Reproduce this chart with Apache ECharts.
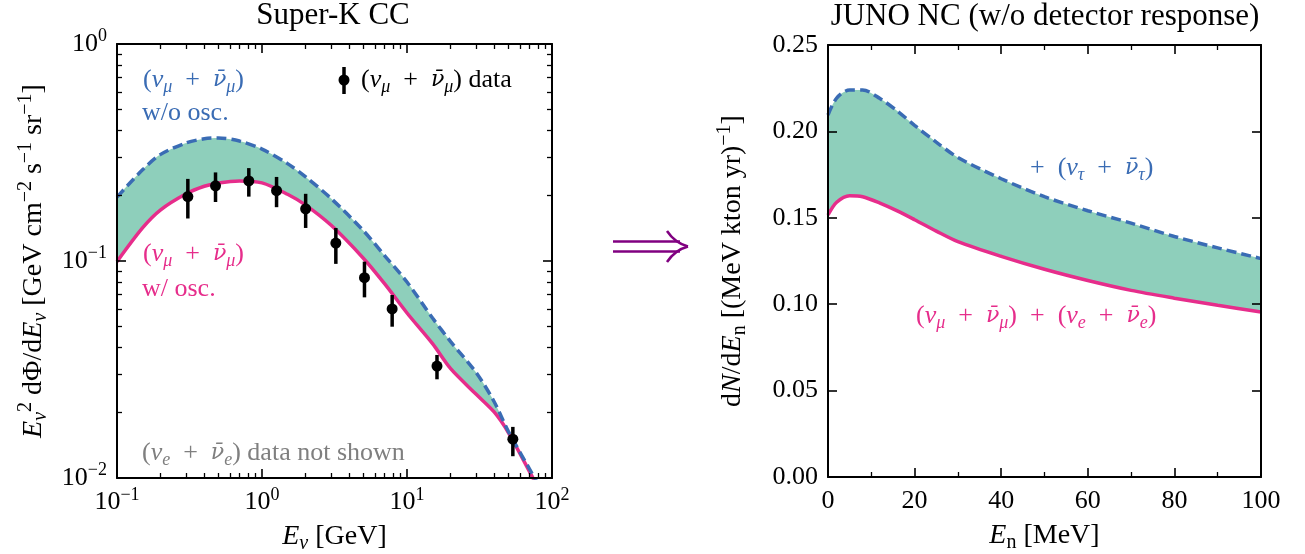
<!DOCTYPE html>
<html>
<head>
<meta charset="utf-8">
<title>Super-K CC / JUNO NC</title>
<script src="https://cdn.jsdelivr.net/npm/echarts@6/dist/echarts.min.js"></script>
<style>
  html, body { margin: 0; padding: 0; background: #fff; }
  #main { width: 1305px; height: 554px; }
</style>
</head>
<body>
<div id="main"></div>
<script>
// ---- Super-K CC (left panel) ----
var skEnergy = [0.1, 0.15, 0.2, 0.3, 0.4, 0.5, 0.7, 1, 1.5, 2, 3, 5, 7, 10, 15, 20, 30, 40, 50, 70, 80];
var skNoOsc = [0.197, 0.263, 0.310, 0.350, 0.366, 0.369, 0.357, 0.328, 0.281, 0.244, 0.194, 0.138, 0.106, 0.080, 0.0546, 0.0425, 0.0306, 0.0224, 0.0164, 0.0110, 0.0094];
var skOsc = [0.0993, 0.142, 0.172, 0.204, 0.221, 0.229, 0.234, 0.229, 0.203, 0.181, 0.146, 0.103, 0.0786, 0.0576, 0.0416, 0.0319, 0.0243, 0.0201, 0.0162, 0.0107, 0.0090];
var dataE = [0.308, 0.478, 0.811, 1.26, 2.0, 3.23, 5.09, 7.9, 16.1, 53.7];
var dataFlux = [0.198, 0.222, 0.234, 0.211, 0.174, 0.121, 0.0838, 0.0601, 0.0328, 0.0151];
var dataLo = [0.157, 0.187, 0.198, 0.177, 0.142, 0.097, 0.068, 0.0498, 0.0285, 0.0126];
var dataHi = [0.239, 0.256, 0.268, 0.244, 0.204, 0.142, 0.0993, 0.0697, 0.0369, 0.0172];

// ---- JUNO NC (right panel) ----
var junoE = [0, 2, 5, 8, 12, 16, 20, 25, 30, 40, 50, 60, 70, 80, 90, 100];
var junoWithTau = [0.2095, 0.2193, 0.2240, 0.2240, 0.2190, 0.2118, 0.2035, 0.1938, 0.1849, 0.1726, 0.1622, 0.1541, 0.1469, 0.1392, 0.1326, 0.1264];
var junoMuE = [0.1516, 0.1590, 0.1628, 0.1622, 0.1585, 0.1540, 0.1489, 0.1423, 0.1362, 0.1277, 0.1202, 0.1137, 0.1080, 0.1035, 0.0994, 0.0955];

// ---- ticks ----
var logMinorX = [0.2, 0.3, 0.4, 0.5, 0.6, 0.7, 0.8, 0.9, 2, 3, 4, 5, 6, 7, 8, 9, 20, 30, 40, 50, 60, 70, 80, 90];
var logMinorY = [0.02, 0.03, 0.04, 0.05, 0.06, 0.07, 0.08, 0.09, 0.2, 0.3, 0.4, 0.5, 0.6, 0.7, 0.8, 0.9];
var junoMinorX = [10, 30, 50, 70, 90];

var SERIF = '"Liberation Serif", "DejaVu Serif", serif';
var BLUE = '#3a6cb4';
var PINK = '#e62d8b';
var GREEN = '#8ecfbb';
var GRAY = '#7f7f7f';
var PURPLE = '#800080';

// rich styles: r roman, i italic, b italic nu-bar, s italic subscript, rs roman subscript, u superscript
function mathRich(color, fs) {
  var small = Math.round(fs * 0.7);
  var lh = Math.round(fs * 1.25);
  return {
    r: { fontFamily: SERIF, fontSize: fs, lineHeight: lh, color: color },
    i: { fontFamily: SERIF, fontSize: fs, fontStyle: 'italic', lineHeight: lh, color: color },
    b: { fontFamily: '"DejaVu Serif"', fontSize: Math.round(fs * 0.85), fontStyle: 'italic', lineHeight: lh, color: color },
    s: { fontFamily: SERIF, fontSize: small, fontStyle: 'italic', lineHeight: small, verticalAlign: 'bottom', color: color },
    rs: { fontFamily: SERIF, fontSize: small, lineHeight: small, verticalAlign: 'bottom', color: color },
    u: { fontFamily: SERIF, fontSize: small, lineHeight: small, verticalAlign: 'top', color: color }
  };
}

var NUBAR = 'ν\u0304';
var SP = '\u2002';
function pair(flav) {
  return '{r|(}{i|ν}{s|' + flav + '}{r|' + SP + '+' + SP + '}{b|' + NUBAR + '}{s|' + flav + '}{r|)}';
}

function zip(xs, ys) {
  return xs.map(function (x, i) { return [x, ys[i]]; });
}

function powLabel(v) {
  var e = Math.round(Math.log(v) / Math.LN10);
  return '{r|10}{u|' + (e < 0 ? '−' + (-e) : e) + '}';
}

// one frame axis: major (with/without labels) or minor ticks only
function frameAxis(o) {
  var ax = {
    type: o.type,
    gridIndex: o.grid,
    position: o.position,
    min: o.min,
    max: o.max,
    z: 10,
    axisLine: { show: !o.minor, onZero: false, lineStyle: { color: '#000', width: 2 } },
    axisTick: { show: true, inside: true, length: o.minor ? 5 : 9, lineStyle: { color: '#000', width: o.minor ? 1.3 : 1.6 } },
    minorTick: { show: false },
    splitLine: { show: false },
    minorSplitLine: { show: false },
    axisLabel: { show: false },
    silent: true
  };
  if (o.type === 'log') ax.logBase = 10;
  if (o.interval) ax.interval = o.interval;
  if (o.minor) ax.axisTick.customValues = o.minor;
  if (o.labels) {
    ax.axisLabel = {
      show: true, margin: o.margin || 8, color: '#000', fontFamily: SERIF, fontSize: 26,
      showMinLabel: true, showMaxLabel: true,
      formatter: o.labels, rich: mathRich('#000', 26)
    };
  }
  if (o.name) {
    ax.name = o.name;
    ax.nameLocation = 'middle';
    ax.nameGap = o.nameGap;
    ax.nameRotate = o.nameRotate;
    ax.nameTextStyle = { fontFamily: SERIF, fontSize: 28, color: '#000', rich: mathRich('#000', 28) };
  }
  return ax;
}

var xAxes = [
  frameAxis({ type: 'log', grid: 0, position: 'bottom', min: 0.1, max: 100, labels: powLabel, margin: 8,
    name: '{i|E}{s|ν}{r| [GeV]}', nameGap: 41 }),
  frameAxis({ type: 'log', grid: 0, position: 'bottom', min: 0.1, max: 100, minor: logMinorX }),
  frameAxis({ type: 'log', grid: 0, position: 'top', min: 0.1, max: 100 }),
  frameAxis({ type: 'log', grid: 0, position: 'top', min: 0.1, max: 100, minor: logMinorX }),
  frameAxis({ type: 'value', grid: 1, position: 'bottom', min: 0, max: 100, interval: 20,
    labels: function (v) { return '{r|' + v + '}'; }, margin: 8,
    name: '{i|E}{rs|n}{r| [MeV]}', nameGap: 41 }),
  frameAxis({ type: 'value', grid: 1, position: 'bottom', min: 0, max: 100, minor: junoMinorX }),
  frameAxis({ type: 'value', grid: 1, position: 'top', min: 0, max: 100, interval: 20 }),
  frameAxis({ type: 'value', grid: 1, position: 'top', min: 0, max: 100, minor: junoMinorX })
];

var yAxes = [
  frameAxis({ type: 'log', grid: 0, position: 'left', min: 0.01, max: 1, labels: powLabel, margin: 10,
    name: '{i|E}{s|ν}{u|2}{r| dΦ/d}{i|E}{s|ν}{r| [GeV cm}{u|−2}{r| s}{u|−1}{r| sr}{u|−1}{r|]}',
    nameGap: 66, nameRotate: 90 }),
  frameAxis({ type: 'log', grid: 0, position: 'left', min: 0.01, max: 1, minor: logMinorY }),
  frameAxis({ type: 'log', grid: 0, position: 'right', min: 0.01, max: 1 }),
  frameAxis({ type: 'log', grid: 0, position: 'right', min: 0.01, max: 1, minor: logMinorY }),
  frameAxis({ type: 'value', grid: 1, position: 'left', min: 0, max: 0.25, interval: 0.05,
    labels: function (v) { return '{r|' + v.toFixed(2) + '}'; }, margin: 10,
    name: '{r|d}{i|N}{r|/d}{i|E}{rs|n}{r| [(MeV kton yr)}{u|−1}{r|]}',
    nameGap: 78, nameRotate: 90 }),
  frameAxis({ type: 'value', grid: 1, position: 'right', min: 0, max: 0.25, interval: 0.05 })
];

var errorBars = dataE.map(function (e, i) { return [e, dataLo[i], dataHi[i]]; });

// band: green area under the upper curve, then white area under the lower curve
function bandSeries(xi, yi, xs, upper, lower) {
  return [
    { type: 'line', xAxisIndex: xi, yAxisIndex: yi, smooth: 0.3, showSymbol: false, z: 1, silent: true,
      data: zip(xs, upper), lineStyle: { width: 0, opacity: 0 },
      areaStyle: { color: GREEN, opacity: 1, origin: 'start' } },
    { type: 'line', xAxisIndex: xi, yAxisIndex: yi, smooth: 0.3, showSymbol: false, z: 2, silent: true,
      data: zip(xs, lower), lineStyle: { width: 0, opacity: 0 },
      areaStyle: { color: '#fff', opacity: 1, origin: 'start' } }
  ];
}

function curve(xi, yi, xs, ys, color, dashed) {
  return { type: 'line', xAxisIndex: xi, yAxisIndex: yi, smooth: 0.3, showSymbol: false, z: 3, silent: true,
    data: zip(xs, ys), lineStyle: { color: color, width: 3.5, type: dashed ? [10, 5] : 'solid' } };
}

var series = [].concat(
  bandSeries(0, 0, skEnergy, skNoOsc, skOsc),
  [
    curve(0, 0, skEnergy, skOsc, PINK, false),
    curve(0, 0, skEnergy, skNoOsc, BLUE, true),
    { type: 'custom', xAxisIndex: 0, yAxisIndex: 0, z: 4, data: errorBars,
      encode: { x: 0, y: [1, 2] },
      renderItem: function (params, api) {
        var lo = api.coord([api.value(0), api.value(1)]);
        var hi = api.coord([api.value(0), api.value(2)]);
        return { type: 'line', shape: { x1: lo[0], y1: lo[1], x2: hi[0], y2: hi[1] },
          style: { stroke: '#000', lineWidth: 3.5 } };
      } },
    { type: 'scatter', xAxisIndex: 0, yAxisIndex: 0, z: 5, symbol: 'circle', symbolSize: 11,
      data: zip(dataE, dataFlux), itemStyle: { color: '#000', opacity: 1 } }
  ],
  bandSeries(4, 4, junoE, junoWithTau, junoMuE),
  [
    curve(4, 4, junoE, junoMuE, PINK, false),
    curve(4, 4, junoE, junoWithTau, BLUE, true)
  ]
);

function label(x, y, text, color, align, fs) {
  fs = fs || 26;
  return {
    type: 'text', x: x, y: y, z: 100, silent: true,
    style: { text: text, rich: mathRich(color, fs), fontFamily: SERIF, fontSize: fs, fill: color,
      align: align || 'left', verticalAlign: 'middle' }
  };
}

var graphics = [
  label(333, 16, '{r|Super-K CC}', '#000', 'center', 31),
  label(1045, 17, '{r|JUNO NC (w/o detector response)}', '#000', 'center', 31),
  label(143, 80, pair('μ'), BLUE),
  label(142, 113, '{r|w/o osc.}', BLUE),
  label(143, 254, pair('μ'), PINK),
  label(142, 289, '{r|w/ osc.}', PINK),
  label(142, 453, pair('e') + '{r| data not shown}', GRAY),
  label(361, 80, pair('μ') + '{r| data}', '#000'),
  label(1030, 168, '{r|+' + SP + '}' + pair('τ'), BLUE),
  label(916, 316, pair('μ') + '{r|' + SP + '+' + SP + '}' + pair('e'), PINK),
  // legend marker: point with error bar
  { type: 'line', z: 100, silent: true, shape: { x1: 344, y1: 67, x2: 344, y2: 94 }, style: { stroke: '#000', lineWidth: 3.5 } },
  { type: 'circle', z: 100, silent: true, shape: { cx: 344, cy: 80, r: 5.5 }, style: { fill: '#000' } },
  // implication arrow between the panels
  { type: 'line', z: 100, silent: true, shape: { x1: 613, y1: 241.5, x2: 680, y2: 241.5 }, style: { stroke: PURPLE, lineWidth: 2.5 } },
  { type: 'line', z: 100, silent: true, shape: { x1: 613, y1: 251.5, x2: 680, y2: 251.5 }, style: { stroke: PURPLE, lineWidth: 2.5 } },
  { type: 'bezierCurve', z: 100, silent: true, shape: { x1: 667, y1: 231, cpx1: 675, cpy1: 243, x2: 688, y2: 246.5 }, style: { stroke: PURPLE, lineWidth: 2.5, fill: null } },
  { type: 'bezierCurve', z: 100, silent: true, shape: { x1: 667, y1: 262, cpx1: 675, cpy1: 250, x2: 688, y2: 246.5 }, style: { stroke: PURPLE, lineWidth: 2.5, fill: null } }
];

var chart = echarts.init(document.getElementById('main'), null, { renderer: 'canvas' });
chart.setOption({
  animation: false,
  backgroundColor: '#fff',
  textStyle: { fontFamily: SERIF },
  grid: [
    { left: 117, top: 44, width: 435, height: 434, containLabel: false, outerBoundsMode: 'none' },
    { left: 828, top: 45, width: 433, height: 432, containLabel: false, outerBoundsMode: 'none' }
  ],
  xAxis: xAxes,
  yAxis: yAxes,
  series: series,
  graphic: graphics
});
</script>
</body>
</html>
